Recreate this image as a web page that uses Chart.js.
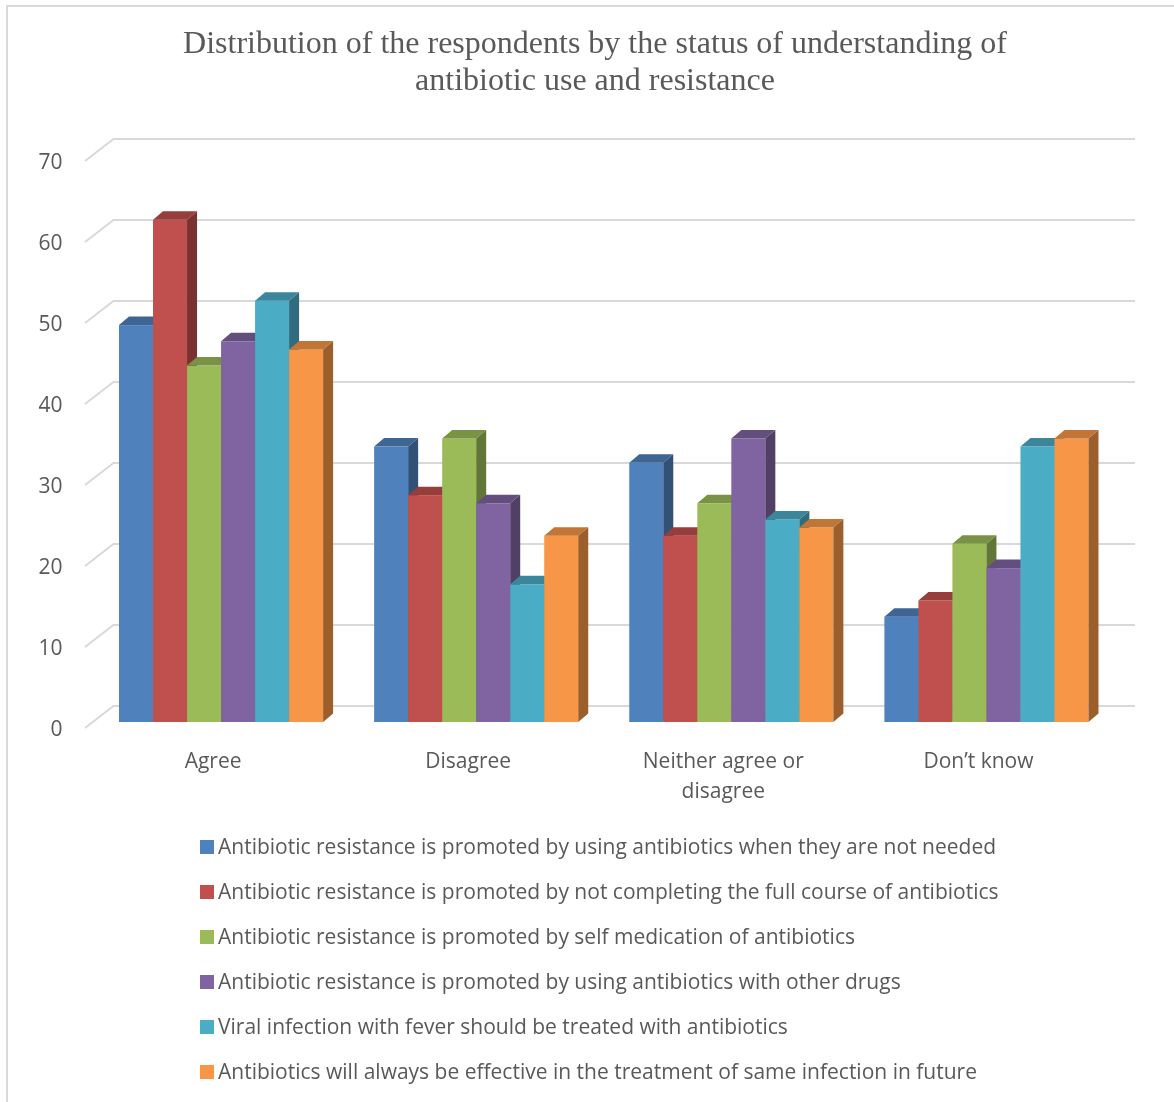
<!DOCTYPE html>
<html>
<head>
<meta charset="utf-8">
<script src="https://cdn.jsdelivr.net/npm/chart.js@4.4.0/dist/chart.umd.min.js"></script>
<style>
html, body { margin: 0; padding: 0; background: #fff; overflow: hidden; }
#wrap { position: relative; width: 1174px; height: 1102px; }
#frame { position: absolute; left: 6px; top: 5px; width: 1200px; height: 1200px;
         border-top: 2px solid #d9d9d9; border-left: 2px solid #d9d9d9; }
canvas { position: absolute; left: 0; top: 0; }
</style>
</head>
<body>
<div id="wrap"><div id="frame"></div><canvas id="chart" width="1174" height="1102"></canvas></div>
<script>
const titleLines = ['Distribution of the respondents by the status of understanding of',
                    'antibiotic use and resistance'];
const categories = ['Agree', 'Disagree', ['Neither agree or', 'disagree'], 'Don\u2019t know'];
const seriesNames = [
    'Antibiotic resistance is promoted by using antibiotics when they are not needed',
    'Antibiotic resistance is promoted by not completing the full course of antibiotics',
    'Antibiotic resistance is promoted by self medication of antibiotics',
    'Antibiotic resistance is promoted by using antibiotics with other drugs',
    'Viral infection with fever should be treated with antibiotics',
    'Antibiotics will always be effective in the treatment of same infection in future'
];
const seriesColors = ['#4F81BD', '#C0504D', '#9BBB59', '#8064A2', '#4BACC6', '#F79646'];

// values per category: Agree, Disagree, Neither, Don't know
const notNeeded = [49, 34, 32, 13];
const notCompleting = [62, 28, 23, 15];
const selfMedication = [44, 35, 27, 22];
const otherDrugs = [47, 27, 35, 19];
const viralFever = [52, 17, 25, 34];
const alwaysEffective = [46, 23, 24, 35];
const seriesValues = [notNeeded, notCompleting, selfMedication, otherDrugs, viralFever, alwaysEffective];

const yMin = 0, yMax = 70, yStep = 10;

const textColor = '#595959';
const gridColor = '#d9d9d9';
const labelFont = '"Open Sans"';
const labelSize = 21;
const depthX = 10, depthY = 8.5;   // bar depth
const wallX = 20, wallY = 16;      // back wall offset

function shade(hex, f) {
    const n = parseInt(hex.slice(1), 16);
    const r = Math.round(((n >> 16) & 255) * f);
    const g = Math.round(((n >> 8) & 255) * f);
    const b = Math.round((n & 255) * f);
    return `rgb(${r},${g},${b})`;
}

function drawBox(ctx, left, right, top, bottom, color) {
    ctx.fillStyle = color;
    ctx.fillRect(left, top, right - left, bottom - top);
    // top face
    ctx.fillStyle = shade(color, 0.78);
    ctx.beginPath();
    ctx.moveTo(left, top);
    ctx.lineTo(right, top);
    ctx.lineTo(right + depthX, top - depthY);
    ctx.lineTo(left + depthX, top - depthY);
    ctx.closePath();
    ctx.fill();
    // right face
    ctx.fillStyle = shade(color, 0.63);
    ctx.beginPath();
    ctx.moveTo(right, top);
    ctx.lineTo(right + depthX, top - depthY);
    ctx.lineTo(right + depthX, bottom - depthY);
    ctx.lineTo(right, bottom);
    ctx.closePath();
    ctx.fill();
}

const bars3d = {
    id: 'bars3d',
    beforeDatasetsDraw(chart) {
        // back wall gridlines with the slanted side wall
        const {ctx, chartArea, scales: {y}} = chart;
        ctx.save();
        ctx.strokeStyle = gridColor;
        ctx.lineWidth = 2;
        y.ticks.forEach(t => {
            const py = y.getPixelForValue(t.value);
            ctx.beginPath();
            ctx.moveTo(chartArea.left - 8.5, py + 6);
            ctx.lineTo(chartArea.left + wallX, py - wallY);
            ctx.lineTo(chartArea.right + 21, py - wallY);
            ctx.stroke();
        });
        ctx.restore();
    },
    beforeDatasetDraw() {
        return false;
    },
    afterDatasetsDraw(chart) {
        const ctx = chart.ctx;
        ctx.save();
        categories.forEach((c, j) => {
            chart.data.datasets.forEach((ds, i) => {
                const bar = chart.getDatasetMeta(i).data[j];
                const half = bar.width / 2;
                drawBox(ctx, bar.x - half, bar.x + half, bar.y, bar.base, seriesColors[i]);
            });
        });
        ctx.restore();
    },
    afterDraw(chart) {
        const ctx = chart.ctx;
        ctx.save();
        // title
        ctx.fillStyle = textColor;
        ctx.font = '32px "Liberation Serif"';
        ctx.textAlign = 'center';
        ctx.textBaseline = 'middle';
        ctx.fillText(titleLines[0], 595, 45);
        ctx.fillText(titleLines[1], 595, 82);
        // legend
        ctx.font = labelSize + 'px ' + labelFont;
        ctx.textAlign = 'left';
        seriesNames.forEach((name, i) => {
            const ly = 847 + i * 45;
            ctx.fillStyle = seriesColors[i];
            ctx.fillRect(200, ly - 7, 14, 14);
            ctx.fillStyle = textColor;
            ctx.fillText(name, 218, ly + 1);
        });
        ctx.restore();
    }
};

new Chart(document.getElementById('chart'), {
    type: 'bar',
    data: {
        labels: categories,
        datasets: seriesNames.map((name, i) => ({
            label: name,
            data: seriesValues[i],
            backgroundColor: seriesColors[i]
        }))
    },
    options: {
        responsive: false,
        animation: false,
        layout: { padding: { left: 33.5, right: 60, top: 155, bottom: 290 } },
        datasets: { bar: { barPercentage: 1, categoryPercentage: 0.8 } },
        plugins: { legend: { display: false }, title: { display: false }, tooltip: { enabled: false } },
        scales: {
            x: {
                grid: { display: false, drawTicks: false },
                border: { display: false },
                ticks: { color: textColor, font: { family: labelFont, size: labelSize, lineHeight: 1.43 }, padding: 25, labelOffset: -8, maxRotation: 0 },
                afterFit(scale) { scale.height = 90; }
            },
            y: {
                min: yMin,
                max: yMax,
                grid: { display: false, drawTicks: false },
                border: { display: false },
                ticks: { stepSize: yStep, color: textColor, font: { family: labelFont, size: labelSize }, padding: 31, labelOffset: 8 },
                afterFit(scale) { scale.width = 60; }
            }
        }
    },
    plugins: [bars3d]
});
</script>
</body>
</html>
